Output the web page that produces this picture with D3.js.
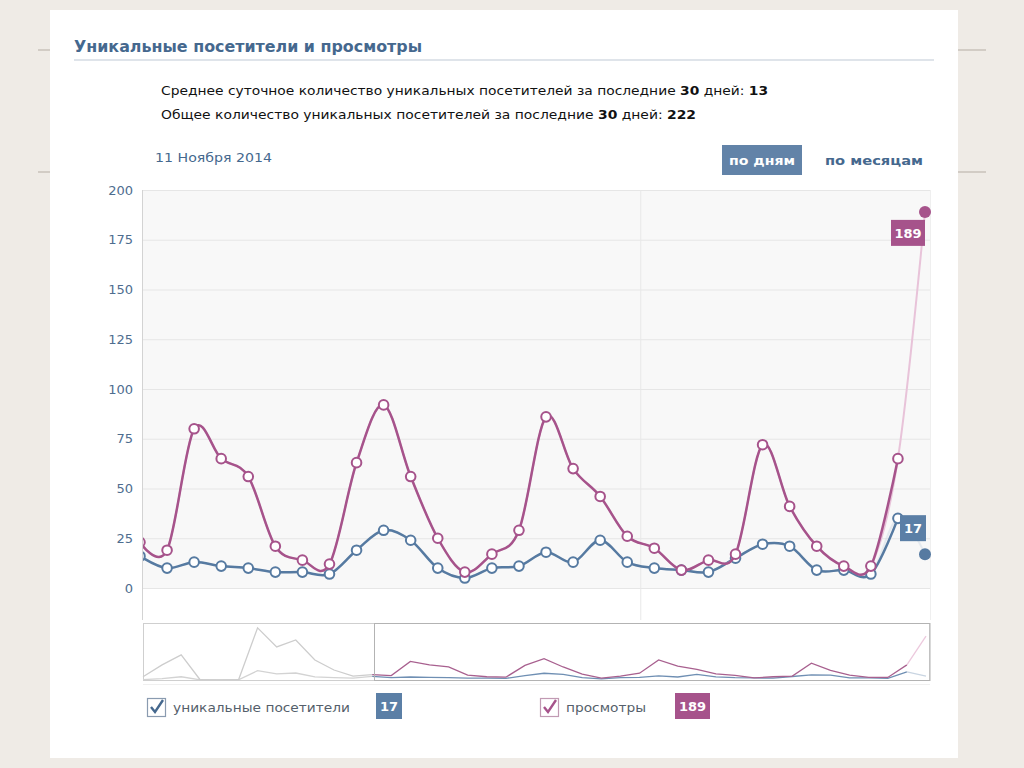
<!DOCTYPE html>
<html>
<head>
<meta charset="utf-8">
<script src="https://cdn.jsdelivr.net/npm/d3@7"></script>
<style>
  body { margin: 0; background: #efebe6; }
  svg { display: block; }
</style>
</head>
<body>
<div id="chart"></div>
<script>
// data: last 30 days, plus the 12 older days shown greyed in the navigator
var views   = [23, 19, 80, 65, 56, 21, 14, 12, 63, 92, 56, 25, 8, 17, 29, 86, 60, 46, 26, 20, 9, 14, 17, 72, 41, 21, 11, 11, 65, 189]
var uniques = [16, 10, 13, 11, 10, 8, 8, 7, 19, 29, 24, 10, 5, 10, 11, 18, 13, 24, 13, 10, 9, 8, 15, 22, 21, 9, 9, 7, 35, 17]
var olderViews   = [14, 65, 108, 0, 0, 0, 224, 142, 172, 86, 43, 17]
var olderUniques = [2, 6, 14, 1, 0, 1, 40, 26, 30, 13, 10, 8]
var yTicks = [0, 25, 50, 75, 100, 125, 150, 175, 200]
var monthBreak = 18.5

var font = "'DejaVu Sans', Tahoma, sans-serif"
var pink = "#a6538b", blue = "#567aa1"

var svg = d3.select("#chart").append("svg")
  .attr("width", 1024).attr("height", 768)
  .style("font-family", font)

// slide background with its rules, then the white card
svg.append("rect").attr("width", 1024).attr("height", 768).attr("fill", "#efebe6")
;[50, 172].forEach(function (ly) {
  svg.append("line").attr("x1", 38).attr("x2", 986).attr("y1", ly).attr("y2", ly)
    .attr("stroke", "#b5ada4").attr("stroke-width", 1)
})
svg.append("rect").attr("x", 50).attr("y", 10).attr("width", 908).attr("height", 748).attr("fill", "#fff")

// header
svg.append("text").attr("x", 74).attr("y", 52)
  .attr("font-size", 15).attr("font-weight", "bold").attr("fill", "#45688e")
  .attr("textLength", 348).attr("lengthAdjust", "spacingAndGlyphs")
  .text("Уникальные посетители и просмотры")
svg.append("line").attr("x1", 74).attr("x2", 934).attr("y1", 60).attr("y2", 60)
  .attr("stroke", "#dfe4ea").attr("stroke-width", 2)

function statLine(yy, len, parts) {
  var t = svg.append("text").attr("x", 161).attr("y", yy).attr("font-size", 13).attr("fill", "#111")
    .attr("textLength", len).attr("lengthAdjust", "spacingAndGlyphs")
  parts.forEach(function (p) {
    t.append("tspan").attr("font-weight", p[1] ? "bold" : "normal").text(p[0])
  })
}
statLine(95, 607, [["Среднее суточное количество уникальных посетителей за последние ", 0], ["30", 1], [" дней: ", 0], ["13", 1]])
statLine(119, 535, [["Общее количество уникальных посетителей за последние ", 0], ["30", 1], [" дней: ", 0], ["222", 1]])

svg.append("text").attr("x", 155).attr("y", 162).attr("font-size", 13).attr("fill", "#45688e")
  .attr("textLength", 117).attr("lengthAdjust", "spacingAndGlyphs").text("11 Ноября 2014")

svg.append("rect").attr("x", 722).attr("y", 145).attr("width", 80).attr("height", 30).attr("fill", "#6283a8")
svg.append("text").attr("x", 762).attr("y", 165).attr("text-anchor", "middle")
  .attr("font-size", 13).attr("font-weight", "bold").attr("fill", "#fff")
  .attr("textLength", 66).attr("lengthAdjust", "spacingAndGlyphs").text("по дням")
svg.append("text").attr("x", 825).attr("y", 165)
  .attr("font-size", 13).attr("font-weight", "bold").attr("fill", "#45688e")
  .attr("textLength", 98).attr("lengthAdjust", "spacingAndGlyphs").text("по месяцам")

// main chart
var x = d3.scaleLinear().domain([0, views.length - 1]).range([140, 925])
var y = d3.scaleLinear().domain([0, 200]).range([588, 190])

svg.append("rect").attr("x", 143).attr("y", 190).attr("width", 787).attr("height", 398).attr("fill", "#f8f8f8")

svg.append("g").selectAll("line").data(yTicks).enter().append("line")
  .attr("x1", 143).attr("x2", 930)
  .attr("y1", function (d) { return y(d) + 0.5 }).attr("y2", function (d) { return y(d) + 0.5 })
  .attr("stroke", "#e6e6e6")

svg.append("line").attr("x1", x(monthBreak)).attr("x2", x(monthBreak)).attr("y1", 190).attr("y2", 620)
  .attr("stroke", "#e8e8e8")
svg.append("line").attr("x1", 930.5).attr("x2", 930.5).attr("y1", 190).attr("y2", 620).attr("stroke", "#efefef")
svg.append("line").attr("x1", 142.5).attr("x2", 142.5).attr("y1", 190).attr("y2", 620).attr("stroke", "#d3d3d3")

var yAxis = svg.append("g").attr("transform", "translate(143,0)")
  .call(d3.axisLeft(y).tickValues(yTicks).tickSize(0).tickPadding(10))
yAxis.select(".domain").remove()
yAxis.selectAll("text").attr("font-size", 13).attr("fill", "#4e6d8f").attr("font-family", font)

svg.append("clipPath").attr("id", "plotClip")
  .append("rect").attr("x", 143).attr("y", 180).attr("width", 790).attr("height", 420)
var plot = svg.append("g").attr("clip-path", "url(#plotClip)")

var curve = d3.curveCardinal.tension(0)
var line = d3.line().x(function (d, i) { return x(i) }).y(function (d) { return y(d) }).curve(curve)

function series(vals, color, faded, fadedOpacity) {
  var last = vals.length - 1
  plot.append("path").datum(vals).attr("d", line)
    .attr("fill", "none").attr("stroke", faded).attr("stroke-width", 2).attr("stroke-opacity", fadedOpacity)
  plot.append("path").datum(vals.slice(0, last)).attr("d", line)
    .attr("fill", "none").attr("stroke", color).attr("stroke-width", 2.5)
  plot.append("g").selectAll("circle").data(vals.slice(0, last)).enter().append("circle")
    .attr("cx", function (d, i) { return x(i) }).attr("cy", function (d) { return y(d) })
    .attr("r", 4.8).attr("fill", "#fff").attr("stroke", color).attr("stroke-width", 2)
  plot.append("circle").attr("cx", x(last)).attr("cy", y(vals[last])).attr("r", 6).attr("fill", color)
}
series(uniques, blue, "#c3d1e0", 0.35)
series(views, pink, "#e8c3d9", 1)

function badge(bx, by, w, txt, color) {
  svg.append("rect").attr("x", bx).attr("y", by).attr("width", w).attr("height", 26).attr("fill", color)
  svg.append("text").attr("x", bx + w / 2).attr("y", by + 18).attr("text-anchor", "middle")
    .attr("font-size", 13).attr("font-weight", "bold").attr("fill", "#fff").text(txt)
}
var lastI = views.length - 1
badge(x(lastI) - 34, y(views[lastI]) + 8, 34, views[lastI], pink)
badge(x(lastI) - 25, y(uniques[lastI]) - 39, 26, uniques[lastI], "#5b7fa6")

// navigator
var navViews = olderViews.concat(views)
var navUniques = olderUniques.concat(uniques)
var nx = d3.scaleLinear().domain([0, navViews.length - 1]).range([143, 926])
var ny = d3.scaleLinear().domain([0, 245]).range([680, 623])
var nline = d3.line().x(function (d) { return nx(d[0]) }).y(function (d) { return ny(d[1]) })
var start = olderViews.length

svg.append("rect").attr("x", 143.5).attr("y", 623.5).attr("width", 786).attr("height", 57)
  .attr("fill", "#fff").attr("stroke", "#cfcfcf")

function navSeries(vals, color, faded, grey) {
  var pts = vals.map(function (v, i) { return [i, v] })
  svg.append("path").datum(pts.slice(0, start + 1)).attr("d", nline)
    .attr("fill", "none").attr("stroke", grey).attr("stroke-width", 1.3)
  svg.append("path").datum(pts.slice(start, pts.length - 1)).attr("d", nline)
    .attr("fill", "none").attr("stroke", color).attr("stroke-width", 1.3)
  svg.append("path").datum(pts.slice(pts.length - 2)).attr("d", nline)
    .attr("fill", "none").attr("stroke", faded).attr("stroke-width", 1.3)
}
navSeries(navUniques, "#6f8fb3", "#c9d5e2", "#d3d3d3")
navSeries(navViews, "#a8608f", "#ecc9dd", "#cdcdcd")

svg.append("rect").attr("x", Math.round(nx(start + 0.1)) + 0.5).attr("y", 623.5)
  .attr("width", 930 - Math.round(nx(start + 0.1)) - 0.5).attr("height", 57)
  .attr("fill", "none").attr("stroke", "#b3b3b3")
svg.append("line").attr("x1", 143).attr("x2", 930).attr("y1", 684.5).attr("y2", 684.5).attr("stroke", "#f0f0f0")

// legend
function legendItem(lx, label, textLen, value, color, boxStroke, badgeColor, badgeX, badgeW) {
  var g = svg.append("g")
  g.append("rect").attr("x", lx + 0.5).attr("y", 698.5).attr("width", 18).attr("height", 18)
    .attr("fill", "#fff").attr("stroke", boxStroke).attr("stroke-width", 1.2)
  g.append("path").attr("d", "M" + (lx + 4) + ",707 L" + (lx + 8) + ",712 L" + (lx + 16) + ",700")
    .attr("fill", "none").attr("stroke", color).attr("stroke-width", 2.4)
  g.append("text").attr("x", lx + 26).attr("y", 712).attr("font-size", 13).attr("fill", "#555f6b")
    .attr("textLength", textLen).attr("lengthAdjust", "spacingAndGlyphs").text(label)
  g.append("rect").attr("x", badgeX).attr("y", 693).attr("width", badgeW).attr("height", 26).attr("fill", badgeColor)
  g.append("text").attr("x", badgeX + badgeW / 2).attr("y", 711).attr("text-anchor", "middle")
    .attr("font-size", 13).attr("font-weight", "bold").attr("fill", "#fff").text(value)
}
legendItem(147, "уникальные посетители", 177, uniques[lastI], "#45688e", "#8a9bb0", "#5b7fa6", 376, 26)
legendItem(540, "просмотры", 80, views[lastI], pink, "#c19ab3", pink, 675, 35)
</script>
</body>
</html>
